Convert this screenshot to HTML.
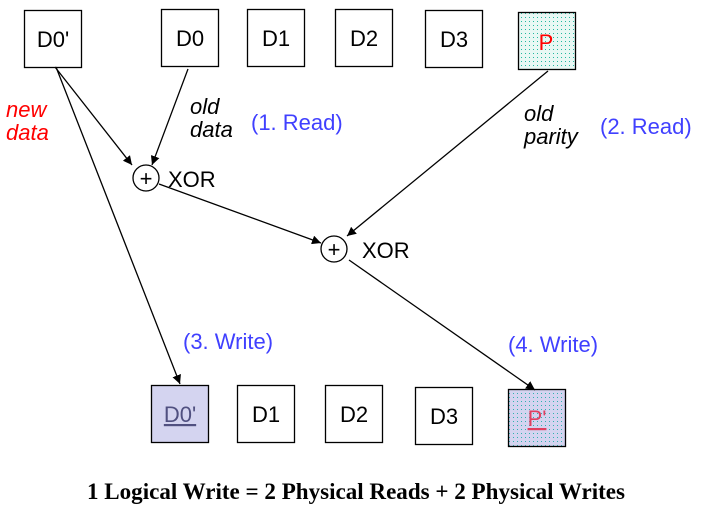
<!DOCTYPE html>
<html><head><meta charset="utf-8"><style>
body{margin:0;background:#fff}
svg{display:block}
text{font-family:"Liberation Sans",sans-serif}
text.cap{font-family:"Liberation Serif",serif}
</style></head><body>
<svg width="704" height="518" viewBox="0 0 704 518" xmlns="http://www.w3.org/2000/svg">
<defs>
<marker id="a" viewBox="0 0 10 10" refX="10" refY="5" markerWidth="9" markerHeight="9" orient="auto" markerUnits="userSpaceOnUse"><path d="M0,0L10,5L0,10z" fill="#000"/></marker>
<pattern id="dots" width="4" height="4" patternUnits="userSpaceOnUse"><rect width="4" height="4" fill="#e8f8f4"/><rect x="1" y="1" width="1" height="1" fill="#22b8a0"/></pattern>
<pattern id="dots2" width="4" height="4" patternUnits="userSpaceOnUse"><rect width="4" height="4" fill="#d4d4f0"/><rect x="1" y="1" width="1" height="1" fill="#30b0b0"/></pattern>
</defs>
<g fill="#fff" stroke="#000" stroke-width="1.3">
<rect x="24.5" y="10.5" width="57" height="57"/>
<rect x="161.5" y="9.5" width="57" height="57"/>
<rect x="247.5" y="9.5" width="57" height="57"/>
<rect x="335.5" y="9.5" width="57" height="57"/>
<rect x="425.5" y="10.5" width="57" height="57"/>
<rect x="518.5" y="12.5" width="57" height="57" fill="url(#dots)"/>
<rect x="151.5" y="385.5" width="57" height="57" fill="#d4d4f0"/>
<rect x="237.5" y="385.5" width="57" height="57"/>
<rect x="325.5" y="385.5" width="57" height="57"/>
<rect x="415.5" y="387.5" width="57" height="57"/>
<rect x="508.5" y="389.5" width="57" height="57" fill="url(#dots2)"/>
</g>
<g font-size="22" text-anchor="middle" fill="#000">
<text x="53" y="47">D0'</text>
<text x="190" y="46">D0</text>
<text x="276" y="46">D1</text>
<text x="364" y="46">D2</text>
<text x="454" y="47">D3</text>
<text x="546" y="50" fill="#f00">P</text>
<text x="180" y="422" fill="#505080" text-decoration="underline">D0'</text>
<text x="266" y="422">D1</text>
<text x="354" y="422">D2</text>
<text x="444" y="424">D3</text>
<text x="537" y="426" fill="#e04060" text-decoration="underline">P'</text>
</g>
<g stroke="#000" stroke-width="1.3" fill="none">
<line x1="55" y1="67" x2="132" y2="165" marker-end="url(#a)"/>
<line x1="188" y1="69" x2="152" y2="165" marker-end="url(#a)"/>
<line x1="56" y1="67" x2="180" y2="384" marker-end="url(#a)"/>
<line x1="159" y1="184" x2="321" y2="243" marker-end="url(#a)"/>
<line x1="548" y1="71" x2="347" y2="236" marker-end="url(#a)"/>
<line x1="349" y1="260" x2="535" y2="390" marker-end="url(#a)"/>
<circle cx="146" cy="178" r="13" fill="#fff"/>
<circle cx="334" cy="249" r="13" fill="#fff"/>
</g>
<g font-size="22" fill="#000">
<text x="146" y="186" text-anchor="middle">+</text>
<text x="334" y="257" text-anchor="middle">+</text>
<text x="168" y="187">XOR</text>
<text x="362" y="258">XOR</text>
</g>
<g font-size="22" font-style="italic">
<text x="6" y="117" fill="#f00">new</text>
<text x="6" y="140" fill="#f00">data</text>
<text x="190" y="114">old</text>
<text x="190" y="137">data</text>
<text x="524" y="121">old</text>
<text x="524" y="144">parity</text>
</g>
<g font-size="22" fill="#4040ff">
<text x="251" y="130">(1. Read)</text>
<text x="600" y="134">(2. Read)</text>
<text x="183" y="349">(3. Write)</text>
<text x="508" y="352">(4. Write)</text>
</g>
<text class="cap" x="87" y="499" font-weight="bold" font-size="23" textLength="538" lengthAdjust="spacingAndGlyphs">1 Logical Write = 2 Physical Reads + 2  Physical Writes</text>
</svg>
</body></html>
